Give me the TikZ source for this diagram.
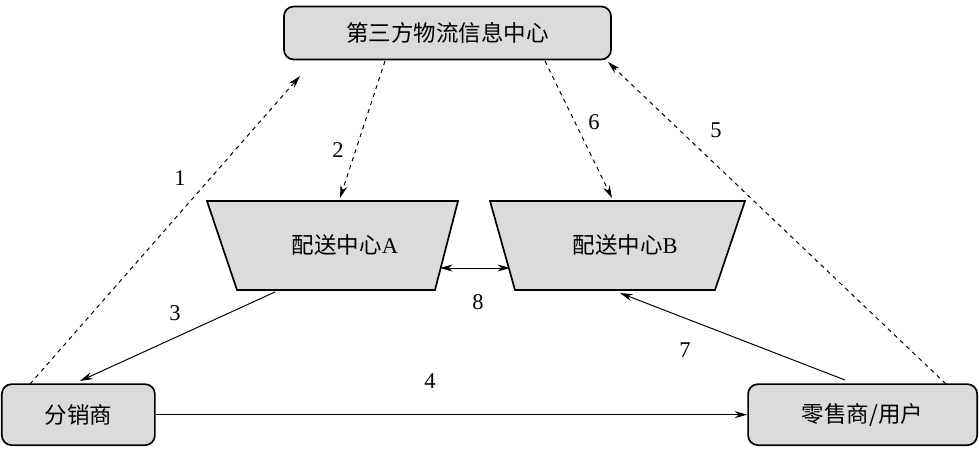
\documentclass[tikz,border=0pt]{standalone}
\usepackage{fontspec}
\setmainfont{Liberation Serif}
\newfontfamily\cjk{Noto Sans CJK SC}
\usetikzlibrary{arrows.meta}
\definecolor{boxgray}{gray}{0.86}
\tikzset{
  infobox/.style={draw, line width=1.2pt, rounded corners=7pt, fill=boxgray, font=\cjk\fontsize{16}{16}\selectfont, inner sep=0pt},
  flow/.style={-{Stealth[length=9pt,width=5pt]}, line width=0.7pt},
  infoflow/.style={flow, dashed},
  lbl/.style={font=\fontsize{16}{16}\selectfont}
}
\begin{document}
\begin{tikzpicture}[x=0.025cm,y=-0.025cm]
  \useasboundingbox (0,0) rectangle (979,450);
  % boxes
  \node[infobox, minimum width=8.175cm, minimum height=1.325cm] (hub) at (447.5,33) {第三方物流信息中心};
  \node[infobox, minimum width=3.825cm, minimum height=1.525cm, anchor=south west] (dist) at (1,446) {分销商};
  \node[infobox, minimum width=5.725cm, minimum height=1.525cm, anchor=south east] (shop) at (978,446) {零售商/用户};
  % distribution centres
  \draw[line width=1.2pt, fill=boxgray] (207,201) -- (458,201) -- (435,290) -- (237,290) -- cycle;
  \draw[line width=1.2pt, fill=boxgray] (490,201) -- (745,201) -- (715,290) -- (515,290) -- cycle;
  \node[font=\cjk\fontsize{16}{16}\selectfont] (dcA) at (345,245) {配送中心\textrm{A}};
  \node[font=\cjk\fontsize{16}{16}\selectfont] (dcB) at (625,245) {配送中心\textrm{B}};
  \coordinate (aTop) at (340,198);
  \coordinate (aBot) at (275,292);
  \coordinate (aRight) at (440,268);
  \coordinate (bTop) at (612,198);
  \coordinate (bBot) at (620,293);
  \coordinate (bLeft) at (510,268);
  % information flows
  \draw[infoflow] (30,384) -- (300,76);
  \draw[infoflow] (385,61) -- (aTop);
  \draw[infoflow] (545,61) -- (bTop);
  \draw[infoflow] (946,384) -- (608,62);
  % goods flows
  \draw[flow] (aBot) -- (80,381);
  \draw[flow] (dist.east) -- (shop.west);
  \draw[flow] (845,380) -- (bBot);
  \draw[flow, {Stealth[length=9pt,width=5pt]}-{Stealth[length=9pt,width=5pt]}] (aRight) -- (bLeft);
  % labels
  \node[lbl] (l1) at (180,178) {1};
  \node[lbl] (l2) at (338,150) {2};
  \node[lbl] (l3) at (175,313) {3};
  \node[lbl] (l4) at (430,381) {4};
  \node[lbl] (l5) at (716,130) {5};
  \node[lbl] (l6) at (594,122) {6};
  \node[lbl] (l7) at (685,350) {7};
  \node[lbl] (l8) at (478,302) {8};
\end{tikzpicture}
\end{document}
